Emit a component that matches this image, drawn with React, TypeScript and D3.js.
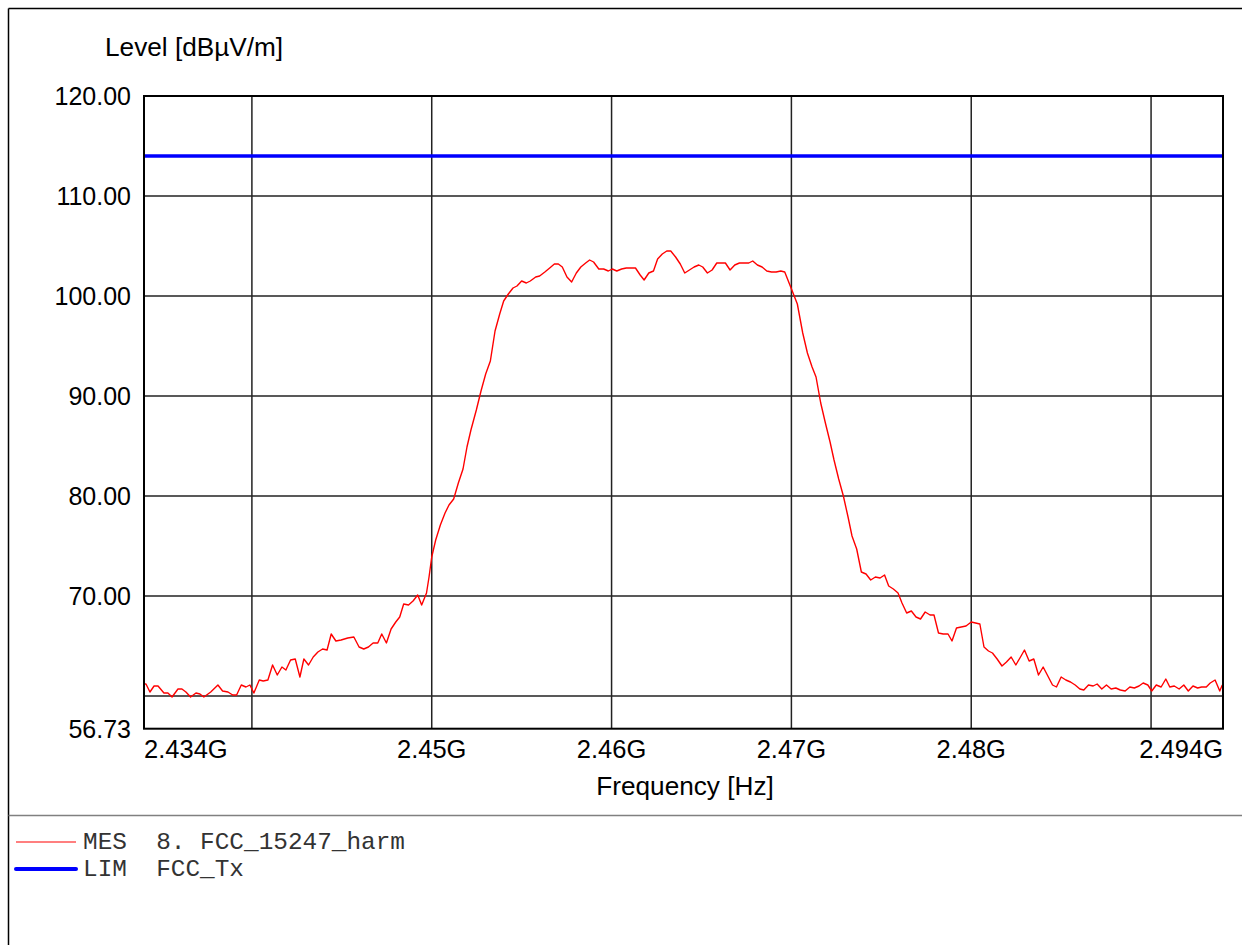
import React from "react";
import * as d3 from "d3";

// Measurement trace: frequency (MHz) and level (dBµV/m)
const mesFreq: number[] = [
  2434.00, 2434.11, 2434.33, 2434.56, 2434.78, 2435.11, 2435.33, 2435.56, 2435.89, 2436.11,
  2436.33, 2436.59, 2436.89, 2437.11, 2437.33, 2437.71, 2438.11, 2438.37, 2438.67, 2438.93,
  2439.15, 2439.41, 2439.67, 2439.89, 2440.11, 2440.41, 2440.63, 2440.89, 2441.15, 2441.41,
  2441.67, 2441.89, 2442.15, 2442.41, 2442.67, 2442.89, 2443.15, 2443.41, 2443.67, 2443.93,
  2444.18, 2444.41, 2444.67, 2444.96, 2445.33, 2445.67, 2445.96, 2446.22, 2446.48, 2446.74,
  2447.00, 2447.22, 2447.48, 2447.74, 2448.00, 2448.22, 2448.44, 2448.71, 2448.96, 2449.22,
  2449.44, 2449.71, 2449.85, 2450.00, 2450.22, 2450.48, 2450.74, 2450.96, 2451.22, 2451.48,
  2451.74, 2451.96, 2452.18, 2452.48, 2452.74, 2453.00, 2453.26, 2453.52, 2453.78, 2454.00,
  2454.26, 2454.52, 2454.74, 2455.00, 2455.26, 2455.48, 2455.78, 2456.00, 2456.29, 2456.56,
  2456.82, 2457.04, 2457.26, 2457.52, 2457.78, 2458.04, 2458.29, 2458.56, 2458.78, 2459.00,
  2459.29, 2459.56, 2459.82, 2460.04, 2460.29, 2460.56, 2460.82, 2461.07, 2461.33, 2461.59,
  2461.81, 2462.07, 2462.33, 2462.56, 2462.82, 2463.07, 2463.29, 2463.56, 2463.82, 2464.07,
  2464.33, 2464.59, 2464.85, 2465.07, 2465.33, 2465.59, 2465.85, 2466.11, 2466.33, 2466.59,
  2466.85, 2467.11, 2467.37, 2467.63, 2467.85, 2468.11, 2468.37, 2468.63, 2468.89, 2469.15,
  2469.41, 2469.63, 2469.96, 2470.33, 2470.63, 2470.89, 2471.15, 2471.37, 2471.63, 2471.89,
  2472.15, 2472.37, 2472.63, 2472.89, 2473.15, 2473.37, 2473.63, 2473.89, 2474.15, 2474.41,
  2474.67, 2474.93, 2475.18, 2475.41, 2475.67, 2475.93, 2476.15, 2476.41, 2476.67, 2476.93,
  2477.18, 2477.44, 2477.71, 2477.93, 2478.18, 2478.44, 2478.71, 2478.93, 2479.18, 2479.44,
  2479.71, 2480.00, 2480.48, 2480.71, 2480.96, 2481.18, 2481.44, 2481.71, 2481.96, 2482.22,
  2482.48, 2482.74, 2482.96, 2483.22, 2483.48, 2483.74, 2484.00, 2484.26, 2484.52, 2484.74,
  2485.00, 2485.26, 2485.52, 2485.78, 2486.04, 2486.26, 2486.52, 2486.78, 2487.00, 2487.26,
  2487.52, 2487.78, 2488.04, 2488.29, 2488.56, 2488.82, 2489.07, 2489.33, 2489.56, 2489.82,
  2490.04, 2490.29, 2490.56, 2490.82, 2491.04, 2491.29, 2491.56, 2491.82, 2492.07, 2492.33,
  2492.59, 2492.81, 2493.07, 2493.29, 2493.56, 2493.82, 2493.96,
];

const mesLevel: number[] = [
  61.2, 61.2, 60.4, 61.0, 61.0, 60.3, 60.3, 59.9, 60.7, 60.7,
  60.4, 59.9, 60.3, 60.2, 59.9, 60.4, 61.1, 60.5, 60.4, 60.1,
  60.1, 61.1, 60.9, 61.1, 60.3, 61.6, 61.5, 61.6, 63.1, 62.1,
  62.9, 62.6, 63.6, 63.7, 61.9, 63.7, 63.1, 63.9, 64.4, 64.7,
  64.6, 66.2, 65.5, 65.6, 65.8, 65.9, 64.9, 64.7, 64.9, 65.3,
  65.3, 66.2, 65.3, 66.7, 67.4, 67.9, 69.2, 69.1, 69.5, 70.1,
  69.1, 70.3, 71.9, 73.9, 75.6, 77.1, 78.3, 79.1, 79.7, 81.3,
  82.7, 84.9, 86.6, 88.6, 90.5, 92.2, 93.5, 96.5, 98.2, 99.5,
  100.2, 100.8, 101.0, 101.5, 101.3, 101.5, 101.9, 102.0, 102.4, 102.8,
  103.2, 103.2, 102.9, 101.9, 101.4, 102.3, 102.9, 103.3, 103.6, 103.4,
  102.7, 102.7, 102.5, 102.7, 102.5, 102.7, 102.8, 102.8, 102.8, 102.1,
  101.6, 102.3, 102.5, 103.7, 104.2, 104.5, 104.5, 103.9, 103.2, 102.3,
  102.6, 102.9, 103.1, 102.9, 102.3, 102.6, 103.3, 103.3, 103.3, 102.6,
  103.1, 103.3, 103.3, 103.3, 103.5, 103.1, 102.9, 102.5, 102.4, 102.4,
  102.5, 102.4, 100.9, 99.2, 96.3, 94.3, 92.9, 91.9, 89.3, 87.3,
  85.4, 83.6, 81.7, 80.0, 77.9, 76.0, 74.7, 72.4, 72.2, 71.6,
  71.9, 71.8, 72.1, 71.0, 70.7, 70.3, 69.3, 68.3, 68.5, 67.9,
  67.7, 68.4, 68.1, 68.1, 66.3, 66.2, 66.2, 65.5, 66.8, 66.9,
  67.0, 67.4, 67.2, 64.9, 64.5, 64.3, 63.7, 63.0, 63.4, 63.9,
  63.1, 63.9, 64.6, 63.5, 63.7, 62.1, 62.9, 62.0, 61.1, 60.9,
  61.9, 61.6, 61.4, 61.1, 60.7, 60.6, 61.1, 61.0, 61.2, 60.7,
  61.1, 60.7, 60.8, 60.6, 60.5, 60.9, 60.8, 61.0, 61.3, 61.1,
  60.5, 61.1, 60.9, 61.7, 60.9, 61.0, 60.7, 61.1, 60.5, 61.0,
  60.8, 60.9, 60.9, 61.3, 61.6, 60.5, 61.1,
];

// Limit line
const limFreq: number[] = [2434, 2494];
const limLevel: number[] = [114, 114];

// Axes
const xDomain: number[] = [2434, 2494];
const yDomain: number[] = [56.73, 120];
const xGrid: number[] = [2440, 2450, 2460, 2470, 2480, 2490];
const xTickValues: number[] = [2434, 2450, 2460, 2470, 2480, 2494];
const xTickLabels: string[] = ["2.434G", "2.45G", "2.46G", "2.47G", "2.48G", "2.494G"];
const yGrid: number[] = [60, 70, 80, 90, 100, 110];
const yTickValues: number[] = [56.73, 70, 80, 90, 100, 110, 120];
const yTickLabels: string[] = ["56.73", "70.00", "80.00", "90.00", "100.00", "110.00", "120.00"];

const legendItems = [
  { code: "MES", name: "8. FCC_15247_harm", color: "#ff0000", width: 1.2 },
  { code: "LIM", name: "FCC_Tx", color: "#0000ff", width: 4 },
];

export default function App() {
  const W = 1242;
  const H = 945;
  const left = 144;
  const right = 1223;
  const top = 96;
  const x = d3.scaleLinear().domain(xDomain).range([left, right]);
  const yScale = d3.scaleLinear().domain([60, 120]).range([696, top]);
  const bottom = yScale(yDomain[0]);
  const y = (v: number) => yScale(v);

  const mesLine = d3
    .line<number>()
    .x((_, i) => x(mesFreq[i]))
    .y((d) => y(d))(mesLevel) as string;
  const limLine = d3
    .line<number>()
    .x((_, i) => x(limFreq[i]))
    .y((d) => y(d))(limLevel) as string;

  const sans = "'Liberation Sans', Arial, sans-serif";
  const mono = "'Liberation Mono', 'Courier New', monospace";

  return (
    <svg
      width={W}
      height={H}
      style={{ position: "absolute", left: 0, top: 0, background: "#fff" }}
    >
      <rect x={0} y={0} width={W} height={H} fill="#fff" />
      {/* outer frame */}
      <line x1={8.5} y1={8.5} x2={W} y2={8.5} stroke="#000" strokeWidth={1.5} />
      <line x1={8.5} y1={8.5} x2={8.5} y2={H} stroke="#000" strokeWidth={1.5} />
      <line x1={8.5} y1={815.5} x2={W} y2={815.5} stroke="#808080" strokeWidth={1.5} />

      {/* grid */}
      {xGrid.map((v) => (
        <line key={"gx" + v} x1={x(v)} x2={x(v)} y1={top} y2={bottom} stroke="#222" strokeWidth={1.5} />
      ))}
      {yGrid.map((v) => (
        <line key={"gy" + v} x1={left} x2={right} y1={y(v)} y2={y(v)} stroke="#222" strokeWidth={1.5} />
      ))}

      <defs>
        <clipPath id="plotclip">
          <rect x={left} y={top} width={right - left} height={bottom - top} />
        </clipPath>
      </defs>
      <g clipPath="url(#plotclip)">
        <path d={limLine} fill="none" stroke="#0000ff" strokeWidth={3.5} />
        <path d={mesLine} fill="none" stroke="#ff0000" strokeWidth={1.4} strokeLinejoin="round" />
      </g>

      {/* plot frame */}
      <rect x={left} y={top} width={right - left} height={bottom - top} fill="none" stroke="#000" strokeWidth={2} />

      {/* y tick labels */}
      {yTickValues.map((v, i) => (
        <text
          key={"yt" + v}
          x={131}
          y={y(v)}
          dy="0.36em"
          textAnchor="end"
          fontFamily={sans}
          fontSize={25}
          fill="#000"
        >
          {yTickLabels[i]}
        </text>
      ))}

      {/* x tick labels */}
      {xTickValues.map((v, i) => (
        <text
          key={"xt" + v}
          x={x(v)}
          y={758}
          textAnchor={i === 0 ? "start" : i === xTickValues.length - 1 ? "end" : "middle"}
          fontFamily={sans}
          fontSize={25.5}
          fill="#000"
        >
          {xTickLabels[i]}
        </text>
      ))}

      {/* axis titles */}
      <text x={105} y={56} fontFamily={sans} fontSize={26.2} fill="#000">
        Level [dBµV/m]
      </text>
      <text x={685} y={795} textAnchor="middle" fontFamily={sans} fontSize={26.2} fill="#000">
        Frequency [Hz]
      </text>

      {/* legend */}
      {legendItems.map((it, i) => {
        const ly = 842 + i * 27;
        return (
          <g key={it.code}>
            <line x1={16} x2={76} y1={ly} y2={ly} stroke={it.color} strokeWidth={it.width} strokeLinecap={i === 1 ? "round" : "butt"} />
            <text
              x={83}
              y={ly + 7}
              fontFamily={mono}
              fontSize={24.4}
              fill="#333"
              style={{ whiteSpace: "pre" }}
            >
              {it.code + "  " + it.name}
            </text>
          </g>
        );
      })}
    </svg>
  );
}
